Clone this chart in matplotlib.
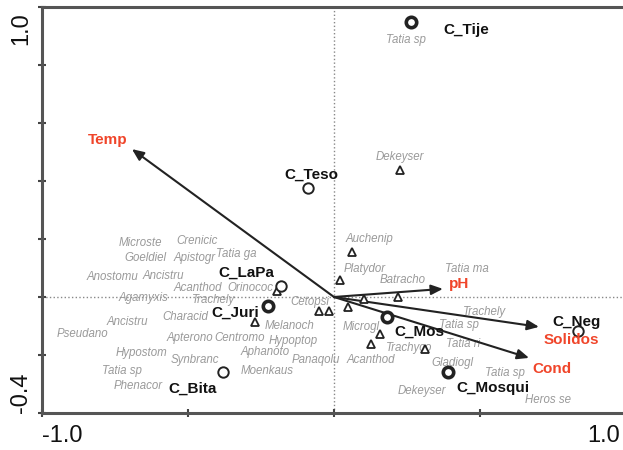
import matplotlib.pyplot as plt
import matplotlib.transforms as mtransforms

plt.rcParams['font.family'] = ['Liberation Sans', 'DejaVu Sans']

# sites (circles)
site_names = ['C_Tije', 'C_Teso', 'C_LaPa', 'C_Juri', 'C_Bita', 'C_Mos', 'C_Mosqui', 'C_Neg']
site_x = [0.264, -0.089, -0.182, -0.226, -0.380, 0.182, 0.390, 0.836]
site_y = [0.948, 0.376, 0.038, -0.031, -0.259, -0.069, -0.259, -0.117]
site_lab_x = [0.452, -0.079, -0.301, -0.339, -0.486, 0.291, 0.545, 0.832]
site_lab_y = [0.921, 0.421, 0.083, -0.055, -0.317, -0.121, -0.314, -0.086]
thick_sites = ['C_Tije', 'C_Juri', 'C_Mos', 'C_Mosqui']

# environmental variables (arrows)
env_names = ['Temp', 'pH', 'Solidos', 'Cond']
env_x = [-0.692, 0.373, 0.702, 0.668]
env_y = [0.510, 0.028, -0.103, -0.210]
env_lab_x = [-0.774, 0.428, 0.812, 0.747]
env_lab_y = [0.541, 0.045, -0.148, -0.248]

# species points (triangles)
tri_x = [0.226, 0.062, 0.021, 0.103, 0.219, 0.048, -0.051, -0.017, -0.195, -0.271, 0.158, 0.127, 0.312]
tri_y = [0.438, 0.155, 0.059, -0.007, 0.0, -0.034, -0.048, -0.048, 0.021, -0.086, -0.128, -0.162, -0.179]

# species labels
sp_names = ['Tatia sp', 'Dekeyser', 'Auchenip', 'Platydor', 'Batracho', 'Tatia ma', 'Trachely',
            'Microgl', 'Tatia sp', 'Tatia ri', 'Trachyco', 'Acanthod', 'Gladiogl', 'Tatia sp',
            'Dekeyser', 'Heros se',
            'Microste', 'Crenicic', 'Goeldiel', 'Apistogr', 'Tatia ga', 'Anostomu', 'Ancistru',
            'Acanthod', 'Orinococ', 'Agamyxis', 'Trachely', 'Cetopsi', 'Characid', 'Ancistru',
            'Pseudano', 'Melanoch', 'Apterono', 'Centromo', 'Hypoptop', 'Hypostom', 'Synbranc',
            'Aphanoto', 'Panaqolu', 'Tatia sp', 'Moenkaus', 'Phenacor']
sp_x = [0.247, 0.226, 0.120, 0.106, 0.236, 0.455, 0.517,
        0.092, 0.428, 0.442, 0.257, 0.127, 0.404, 0.586,
        0.301, 0.733,
        -0.664, -0.469, -0.647, -0.479, -0.336, -0.760, -0.586,
        -0.466, -0.288, -0.651, -0.411, -0.082, -0.510, -0.709,
        -0.860, -0.154, -0.493, -0.322, -0.140, -0.658, -0.476,
        -0.236, -0.062, -0.726, -0.229, -0.671]
sp_y = [0.886, 0.483, 0.200, 0.097, 0.059, 0.097, -0.052,
        -0.103, -0.097, -0.162, -0.176, -0.217, -0.228, -0.262,
        -0.324, -0.355,
        0.186, 0.193, 0.134, 0.134, 0.148, 0.069, 0.072,
        0.031, 0.031, -0.003, -0.010, -0.017, -0.069, -0.086,
        -0.128, -0.100, -0.141, -0.141, -0.152, -0.193, -0.217,
        -0.190, -0.217, -0.255, -0.255, -0.307]

fig = plt.figure(figsize=(6.23, 4.5), dpi=100)
ax = fig.add_axes([42 / 623, 37 / 450, 584 / 623, 406 / 450])
ax.set_xlim(-1.0, 1.0)
ax.set_ylim(-0.4, 1.0)

ax.axhline(0, color='#888888', ls=':', lw=1, zorder=1)
ax.axvline(0, color='#888888', ls=':', lw=1, zorder=1)

# species labels and triangles
for name, x, y in zip(sp_names, sp_x, sp_y):
    ax.text(x, y, name, color='#9a9a9a', fontsize=8.3, style='italic',
            ha='center', va='center', zorder=2)
ax.plot(tri_x, tri_y, ls='none', marker='^', ms=5.5, mfc='white', mec='#222222',
        mew=1.3, zorder=4)

# arrows
for name, x, y, lx, ly in zip(env_names, env_x, env_y, env_lab_x, env_lab_y):
    ax.annotate('', xy=(x, y), xytext=(0, 0),
                arrowprops=dict(arrowstyle='-|>,head_length=0.7,head_width=0.3',
                                color='#222222', lw=1.5, shrinkA=0, shrinkB=0),
                zorder=3)
    ax.text(lx, ly, name, color='#f0452a', fontsize=11, fontweight='bold',
            ha='center', va='center', zorder=5)

# sites
for name, x, y, lx, ly in zip(site_names, site_x, site_y, site_lab_x, site_lab_y):
    mew = 2.6 if name in thick_sites else 1.4
    ax.plot(x, y, marker='o', ms=7.5, mfc='white', mec='#222222', mew=mew, zorder=4)
    ax.text(lx, ly, name, color='#111111', fontsize=11, fontweight='bold',
            ha='center', va='center', zorder=5)

for s in ax.spines.values():
    s.set_color('#555555')
    s.set_linewidth(2.2)

ax.set_xticks([-1.0, -0.5, 0.0, 0.5, 1.0])
ax.set_xticklabels(['-1.0', '', '', '', '1.0'])
ax.set_yticks([-0.4, -0.2, 0.0, 0.2, 0.4, 0.6, 0.8, 1.0])
ax.set_yticklabels(['-0.4', '', '', '', '', '', '', '1.0'], rotation=90)
ax.tick_params(direction='inout', length=6, width=1.5, color='#444444',
               labelsize=17, labelcolor='#111111')
ax.tick_params(axis='y', pad=4)
ax.tick_params(axis='x', pad=6)

xl = ax.get_xticklabels()
xl[0].set_ha('left')
xl[-1].set_ha('right')
xl[-1].set_transform(xl[-1].get_transform() +
                     mtransforms.ScaledTranslation(-6 / 100, 0, fig.dpi_scale_trans))
yl = ax.get_yticklabels()
yl[0].set_va('bottom')
yl[-1].set_va('top')
yl[-1].set_transform(yl[-1].get_transform() +
                     mtransforms.ScaledTranslation(0, -5 / 100, fig.dpi_scale_trans))

fig.savefig('out.png', dpi=100)
